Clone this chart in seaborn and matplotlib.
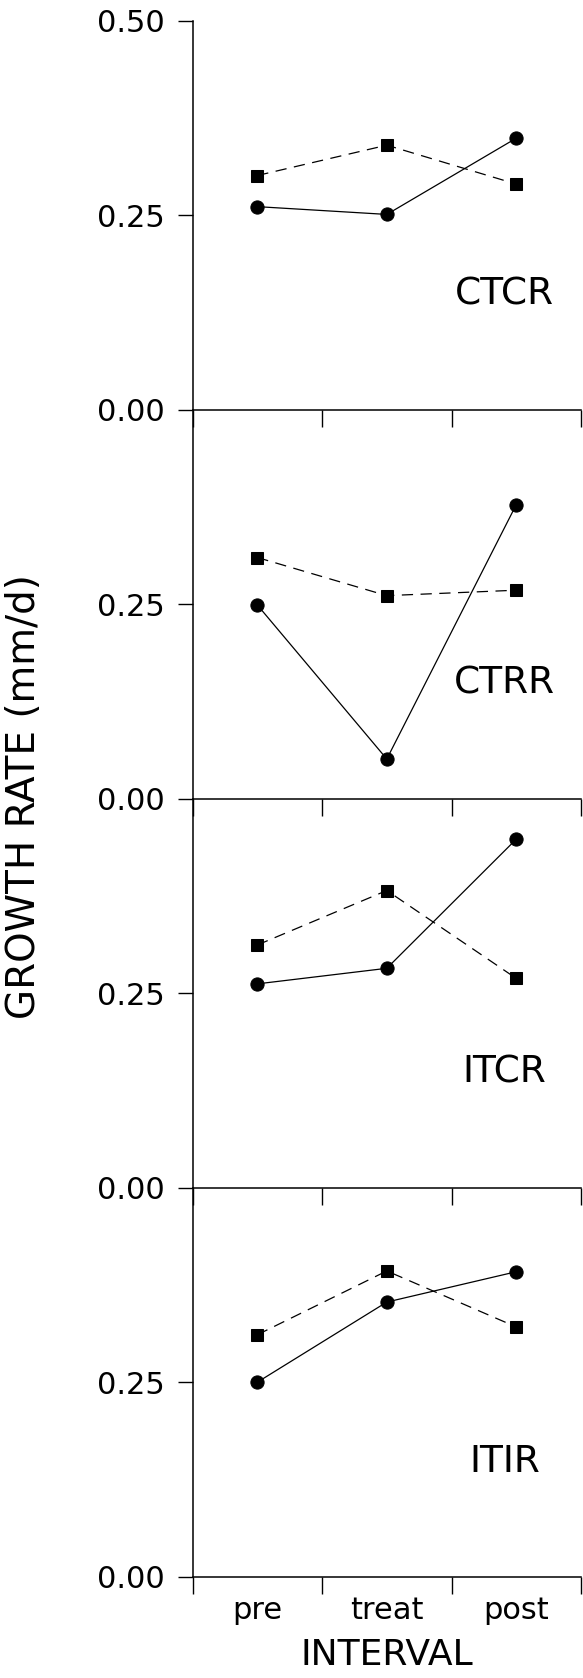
import matplotlib
matplotlib.use("Agg")
import matplotlib.pyplot as plt
import seaborn as sns
import pandas as pd

intervals = ["pre", "treat", "post"]
panels = ["CTCR", "CTRR", "ITCR", "ITIR"]
solid_circle = {
    "CTCR": [0.261, 0.251, 0.349],
    "CTRR": [0.249, 0.051, 0.378],
    "ITCR": [0.262, 0.282, 0.448],
    "ITIR": [0.250, 0.353, 0.392],
}
dashed_square = {
    "CTCR": [0.301, 0.340, 0.290],
    "CTRR": [0.310, 0.261, 0.268],
    "ITCR": [0.312, 0.382, 0.269],
    "ITIR": [0.311, 0.393, 0.321],
}
ylabel = "GROWTH RATE (mm/d)"
xlabel = "INTERVAL"

sns.set_theme(style="white")
plt.rcParams["font.family"] = ["DejaVu Sans"]

W, H = 583, 1678
fig = plt.figure(figsize=(W / 100, H / 100), dpi=100)
gs = fig.add_gridspec(4, 1, left=192.6 / W, right=581 / W,
                      top=1 - 20.7 / H, bottom=1 - 1576.7 / H, hspace=0)

for i, name in enumerate(panels):
    ax = fig.add_subplot(gs[i])
    ax.set_facecolor("none")
    df_c = pd.DataFrame({"interval": intervals, "rate": solid_circle[name]})
    df_s = pd.DataFrame({"interval": intervals, "rate": dashed_square[name]})
    sns.lineplot(data=df_s, x="interval", y="rate", ax=ax, color="black",
                 sort=False, errorbar=None, linewidth=0.9, linestyle=(0, (9, 6)),
                 marker="s", markersize=8, markeredgecolor="black")
    sns.lineplot(data=df_c, x="interval", y="rate", ax=ax, color="black",
                 sort=False, errorbar=None, linewidth=0.9, linestyle="-",
                 marker="o", markersize=9.5, markeredgecolor="black")
    ax.set_xlim(-0.5, 2.5)
    ax.set_ylim(0, 0.5)
    ax.set_xlabel("")
    ax.set_ylabel("")
    for s in ["top", "right"]:
        ax.spines[s].set_visible(False)
    for s in ["left", "bottom"]:
        ax.spines[s].set_linewidth(1.1)
        ax.spines[s].set_color("black")
    if i == 0:
        ax.set_yticks([0, 0.25, 0.5])
        ax.set_yticklabels(["0.00", "0.25", "0.50"])
    else:
        ax.set_yticks([0, 0.25])
        ax.set_yticklabels(["0.00", "0.25"])
    ax.tick_params(axis="y", direction="out", length=10.8, width=1.0,
                   labelsize=22, pad=9, colors="black", left=True)
    ax.set_xticks([0, 1, 2])
    ax.set_xticks([-0.5, 0.5, 1.5, 2.5], minor=True)
    ax.tick_params(axis="x", which="minor", direction="out", length=12,
                   width=1.0, bottom=True, colors="black")
    ax.tick_params(axis="x", which="major", length=0, bottom=False)
    if i == len(panels) - 1:
        ax.set_xticklabels(intervals, fontsize=22)
        ax.tick_params(axis="x", which="major", pad=14, labelcolor="black")
        ax.set_xlabel(xlabel, fontsize=26, labelpad=9, color="black")
    else:
        ax.set_xticklabels([])
    ax.text(1.91, 0.148, name, ha="center", va="center", fontsize=27,
            family=["Liberation Sans Narrow", "DejaVu Sans"], color="black")

fig.text(24 / W, 1 - 796.5 / H, ylabel, rotation=90, ha="center", va="center",
         fontsize=28, color="black")

fig.savefig("out.png", dpi=100)
